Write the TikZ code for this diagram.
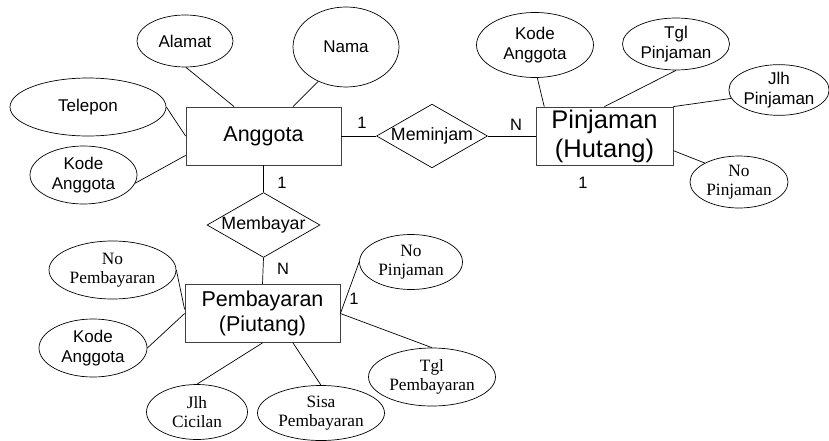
\documentclass[tikz,border=0pt]{standalone}
\usepackage{fontspec}
\setmainfont{Liberation Sans}
\newfontfamily\timesfont{Liberation Serif}
\usetikzlibrary{shapes.geometric}
\tikzset{
  entity/.style={rectangle,draw=black!75,line width=.8pt,minimum width=155pt,
    minimum height=58pt,inner sep=0pt,align=center,font=\fontsize{21.5}{25}\selectfont},
  relation/.style={diamond,aspect=1.74,draw=black,line width=.7pt,minimum width=108pt,
    minimum height=62pt,inner sep=0pt,font=\fontsize{17.8}{20}\selectfont},
  attr/.style={ellipse,draw=black,line width=.7pt,inner sep=0pt,align=center,
    font=\fontsize{17}{20}\selectfont},
  attrT/.style={attr,font=\timesfont\fontsize{17.3}{19.5}\selectfont},
  link/.style={draw=black,line width=.7pt},
  card/.style={font=\fontsize{16.5}{18}\selectfont,inner sep=0pt}
}

\begin{document}
\begin{tikzpicture}[x=1pt,y=-1pt]
  \useasboundingbox (0,0) rectangle (829,441);

  % Entities and relationships
  \node[entity] (anggota) at (263.5,136) {Anggota};
  \node[entity,minimum width=137pt,font=\fontsize{25.5}{29}\selectfont] (pinjaman) at (604.5,136) {Pinjaman\\(Hutang)};
  \node[entity] (pembayaran) at (262.5,313.5) {Pembayaran\\(Piutang)};
  \node[relation] (meminjam) at (432,136) {Meminjam};
  \node[relation,minimum width=109pt,minimum height=61pt] (membayar) at (263.5,225) {Membayar};
  \draw[link] (anggota.east) -- (meminjam.west);
  \draw[link] (meminjam.east) -- (pinjaman.west);
  \draw[link] (anggota.south) -- (membayar.north);
  \draw[link] (membayar.south) -- (pembayaran.north);

  % Cardinalities
  \node[card] (c1) at (362,123) {1};
  \node[card] (c2) at (516,125) {N};
  \node[card] (c3) at (583,183) {1};
  \node[card] (c4) at (282,183) {1};
  \node[card] (c5) at (283,269) {N};
  \node[card] (c6) at (354,299) {1};

  % Anggota attributes
  \node[attr,minimum width=96pt,minimum height=52pt] (alamat) at (185,41) {Alamat};
  \node[attr,minimum width=106pt,minimum height=80pt] (nama) at (346,47) {Nama};
  \node[attr,minimum width=156pt,minimum height=58pt] (telepon) at (88,107) {Telepon};
  \node[attr,minimum width=107pt,minimum height=58pt] (kodeA) at (83.5,175) {Kode\\Anggota};
  \draw[link] (alamat.-88) -- (anggota.135);
  \draw[link] (nama.231) -- (anggota.45);
  \draw[link] (telepon.east) -- (anggota.west);
  \draw[link] (kodeA.-9) -- (anggota.194);

  % Pinjaman attributes
  \node[attr,minimum width=117pt,minimum height=65pt] (kodeB) at (535,45) {Kode\\Anggota};
  \node[attr,minimum width=107pt,minimum height=52pt] (tglP) at (676,44) {Tgl\\Pinjaman};
  \node[attr,minimum width=98pt,minimum height=46pt] (jlhP) at (779,90) {Jlh\\Pinjaman};
  \node[attrT,minimum width=98pt,minimum height=52pt] (noP) at (739,182) {No\\Pinjaman};
  \draw[link] (kodeB.-86) -- (pinjaman.154);
  \draw[link] (tglP.south) -- (pinjaman.north);
  \draw[link] (jlhP.190) -- (pinjaman.north east);
  \draw[link] (noP.151) -- (pinjaman.-12);

  % Pembayaran attributes
  \node[attrT,minimum width=127pt,minimum height=58pt] (noPb) at (112.5,270) {No\\Pembayaran};
  \node[attr,minimum width=108pt,minimum height=58pt] (kodeC) at (93,348) {Kode\\Anggota};
  \node[attrT,minimum width=101pt,minimum height=55pt] (jlhC) at (197,412) {Jlh\\Cicilan};
  \node[attrT,minimum width=127pt,minimum height=55pt] (sisa) at (321,413) {Sisa\\Pembayaran};
  \node[attrT,minimum width=103pt,minimum height=55pt] (noPl) at (411,262) {No\\Pinjaman};
  \node[attrT,minimum width=127pt,minimum height=58pt] (tglPb) at (432,377) {Tgl\\Pembayaran};
  \draw[link] (noPb.east) -- (pembayaran.177);
  \draw[link] (kodeC.east) -- (pembayaran.west);
  \draw[link] (jlhC.north) -- (pembayaran.south);
  \draw[link] (sisa.north) -- (pembayaran.-44);
  \draw[link] (noPl.west) -- (pembayaran.east);
  \draw[link] (pembayaran.east) -- (tglPb.north);
\end{tikzpicture}
\end{document}
